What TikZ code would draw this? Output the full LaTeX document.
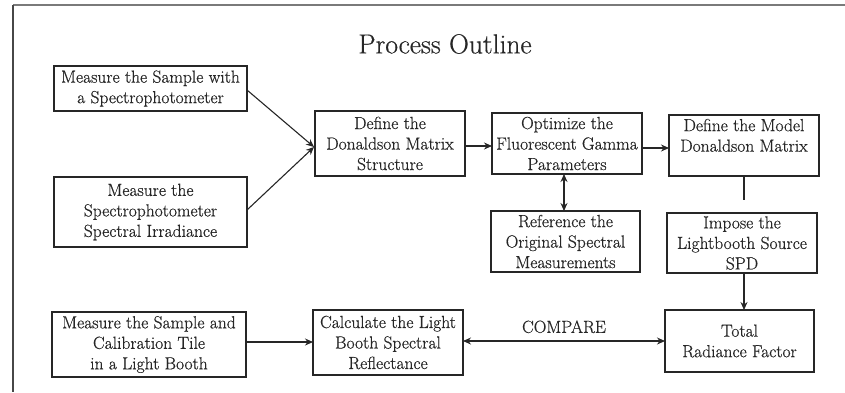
\documentclass[tikz,border=0pt]{standalone}
\usepackage{fontspec}
\setmainfont{Latin Modern Roman}[FakeBold=0.6]
\usetikzlibrary{arrows.meta,calc}
\definecolor{ink}{HTML}{262626}
\definecolor{frame}{HTML}{7A7A7A}
\begin{document}
\begin{tikzpicture}[x=1pt,y=-1pt,
  box/.style={draw=ink,line width=1.1pt,inner sep=1pt,outer sep=0pt,align=center,text=ink,
    font=\fontsize{17.5}{20.5}\selectfont},
  arr/.style={draw=ink,line width=1.1pt,-{Stealth[length=8pt,width=7pt]}},
  dbl/.style={draw=ink,line width=1.1pt,{Stealth[length=8pt,width=7pt]}-{Stealth[length=8pt,width=7pt]}},
  plain/.style={draw=ink,line width=1.1pt}]
\useasboundingbox (0,0) rectangle (845,392);
% frame (cropped)
\draw[frame,line width=1.4pt] (13,5) -- (845,5);
\draw[ink!85,line width=1.1pt] (13,5) -- (13,392);
% title
\node[text=ink,font=\fontsize{27.5}{30}\selectfont] (title) at (445,44) {Process Outline};
% boxes
\node[box,minimum width=193,minimum height=45] (A) at (150.5,88.5) {Measure the Sample with\\a Spectrophotometer};
\node[box,minimum width=193,minimum height=70] (B) at (150.5,212) {Measure the\\Spectrophotometer\\Spectral Irradiance};
\node[box,minimum width=194,minimum height=65] (C) at (149,344.5) {Measure the Sample and\\Calibration Tile\\in a Light Booth};
\node[box,minimum width=150,minimum height=65] (D) at (390,143.5) {Define the\\Donaldson Matrix\\Structure};
\node[box,minimum width=150,minimum height=61] (E) at (567,143.5) {Optimize the\\Fluorescent Gamma\\Parameters};
\node[box,minimum width=149,minimum height=61] (F) at (565.5,241.5) {Reference the\\Original Spectral\\Measurements};
\node[box,minimum width=150,minimum height=61] (G) at (744,145.5) {Define the Model\\Donaldson Matrix\\\mbox{}};
\node[box,minimum width=150,minimum height=60] (H) at (742,243) {Impose the\\Lightbooth Source\\SPD};
\node[box,minimum width=149,minimum height=62] (I) at (739.5,341) {Total\\Radiance Factor};
\node[box,minimum width=150,minimum height=65] (J) at (388,342.5) {Calculate the Light\\Booth Spectral\\Reflectance};
% connectors
\coordinate (dm) at ($(D.west)+(-1,3.5)$);
\draw[arr] ($(A.east)+(0,1.5)$) -- (dm);
\draw[arr] ($(B.east)+(0,-2)$) -- (dm);
\draw[arr] ($(D.east)+(0,2.5)$) -- ($(E.west)+(0,2.5)$);
\draw[dbl] ($(E.south)+(-3,0)$) -- ($(F.north)+(-1.5,0)$);
\draw[arr] ($(E.east)+(0,4.5)$) -- ($(G.west)+(0,2.5)$);
\coordinate (gend) at ($(G.south)+(0,24)$);
\draw[plain] (G.south) -- (gend);
\draw[arr] ($(H.south)+(2,0)$) -- ($(I.north)+(4.5,0)$);
\draw[arr] ($(C.east)+(0,-2.5)$) -- ($(J.west)+(0,-0.5)$);
\draw[dbl] ($(J.east)+(0,-1.5)$) -- node[above=4pt,text=ink,font=\fontsize{17.5}{20}\selectfont] (cmp) {COMPARE} (I.west);
\end{tikzpicture}
\end{document}
